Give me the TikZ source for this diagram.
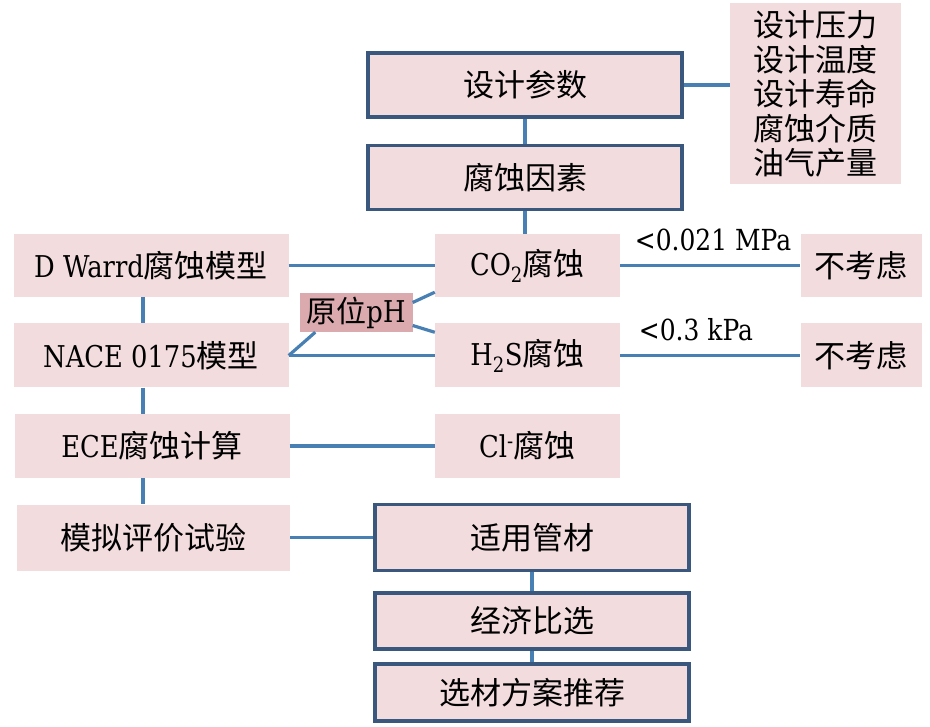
\documentclass[tikz,border=0pt]{standalone}
\usepackage{fontspec}
\setmainfont{DejaVu Serif}[FakeStretch=0.86]
\newfontfamily\cjk{Noto Sans CJK SC}
\usepackage{tikz}
\usetikzlibrary{positioning}
\definecolor{boxpink}{RGB}{242,220,222}
\definecolor{phpink}{RGB}{219,170,174}
\definecolor{boxblue}{RGB}{58,88,125}
\definecolor{linkblue}{RGB}{72,128,180}

\begin{document}
\begin{tikzpicture}[x=1pt, y=-1pt,
	box/.style={rectangle, fill=boxpink, inner sep=0pt, font=\fontsize{30}{36}\selectfont},
	mainbox/.style={box, draw=boxblue, line width=3.6pt, minimum width=314pt, minimum height=64pt, font=\cjk\fontsize{31}{36}\selectfont},
	conn/.style={draw=linkblue, line width=3.2pt}]
	\useasboundingbox (0,0) rectangle (930,727);
	
	% Colonna principale in alto
	\node[mainbox] (sjcs) at (525,85) {设计参数};
	\node[mainbox, below=25pt of sjcs] (fsys) {腐蚀因素};
	\node[box, minimum width=171pt, minimum height=181pt, align=center, font=\cjk\fontsize{31}{34.5}\selectfont] (canshu) at (815.5,94) {设计压力\\设计温度\\设计寿命\\腐蚀介质\\油气产量};
	
	% Modelli a sinistra
	\node[box, minimum width=275pt, minimum height=63pt] (dwarrd) at (151,265.5) {D Warrd{\cjk\fontsize{31}{36}\selectfont 腐蚀模型}};
	\node[box, minimum width=275pt, minimum height=64pt] (nace) at (151,355.5) {NACE 0175{\cjk\fontsize{31}{36}\selectfont 模型}};
	\node[box, minimum width=275pt, minimum height=64pt] (ece) at (152,446) {ECE{\cjk\fontsize{31}{36}\selectfont 腐蚀计算}};
	\node[box, minimum width=273pt, minimum height=66pt, font=\cjk\fontsize{31}{36}\selectfont] (mnpj) at (153.5,537.5) {模拟评价试验};
	
	% Tipi di corrosione
	\node[box, minimum width=185pt, minimum height=63pt] (co2) at (527.5,265.5) {CO\textsubscript{2}{\cjk\fontsize{31}{36}\selectfont 腐蚀}};
	\node[box, minimum width=185pt, minimum height=64pt] (h2s) at (527.5,355.5) {H\textsubscript{2}S{\cjk\fontsize{31}{36}\selectfont 腐蚀}};
	\node[box, minimum width=185pt, minimum height=64pt] (cl) at (527.5,446) {Cl\textsuperscript{-}{\cjk\fontsize{31}{36}\selectfont 腐蚀}};
	\node[box, minimum width=113pt, minimum height=39pt, fill=phpink, font=\fontsize{30}{36}\selectfont] (ph) at (356,312.5) {{\cjk 原位}pH};
	
	% Soglie
	\node[box, minimum width=121pt, minimum height=63pt, font=\cjk\fontsize{31}{36}\selectfont] (bkl1) at (861,265.5) {不考虑};
	\node[box, minimum width=121pt, minimum height=64pt, font=\cjk\fontsize{31}{36}\selectfont] (bkl2) at (861,355.5) {不考虑};
	\node[font=\fontsize{29}{36}\selectfont, inner sep=0pt] (mpa) at (713,240) {<0.021 MPa};
	\node[font=\fontsize{29}{36}\selectfont, inner sep=0pt] (kpa) at (696,330) {<0.3 kPa};
	
	% Colonna principale in basso
	\node[mainbox, minimum height=66pt] (sygc) at (532,537.5) {适用管材};
	\node[mainbox, minimum height=56pt] (jjbx) at (532,621) {经济比选};
	\node[mainbox, minimum height=57pt] (xcfa) at (532,692.5) {选材方案推荐};
	
	\draw[conn] (sjcs) -- (fsys);
	\draw[conn] (sjcs.east) -- (sjcs.east -| canshu.west);
	\draw[conn] (fsys.south) -- (fsys.south |- co2.north);
	
	\draw[conn] (dwarrd) -- (co2);
	\draw[conn] (co2) -- (bkl1);
	\draw[conn] (nace) -- (h2s);
	\draw[conn] (h2s) -- (bkl2);
	\draw[conn] (ece) -- (cl);
	\draw[conn] (mnpj) -- (sygc);
	
	\draw[conn] ([yshift=10pt]ph.east) -- ([yshift=5pt]co2.south west);
	\draw[conn] ([yshift=-13pt]ph.east) -- ([yshift=-9pt]h2s.north west);
	\draw[conn] ([xshift=16pt]ph.south west) -- (nace.east);
	
	\draw[conn] ([xshift=-8pt]dwarrd.south) -- ([xshift=-8pt]nace.north);
	\draw[conn] ([xshift=-8pt]nace.south) -- ([xshift=-9pt]ece.north);
	\draw[conn] ([xshift=-9pt]ece.south) -- ([xshift=-10.5pt]mnpj.north);
	
	\draw[conn] (sygc) -- (jjbx);
	\draw[conn] (jjbx) -- (xcfa);
\end{tikzpicture}
\end{document}
